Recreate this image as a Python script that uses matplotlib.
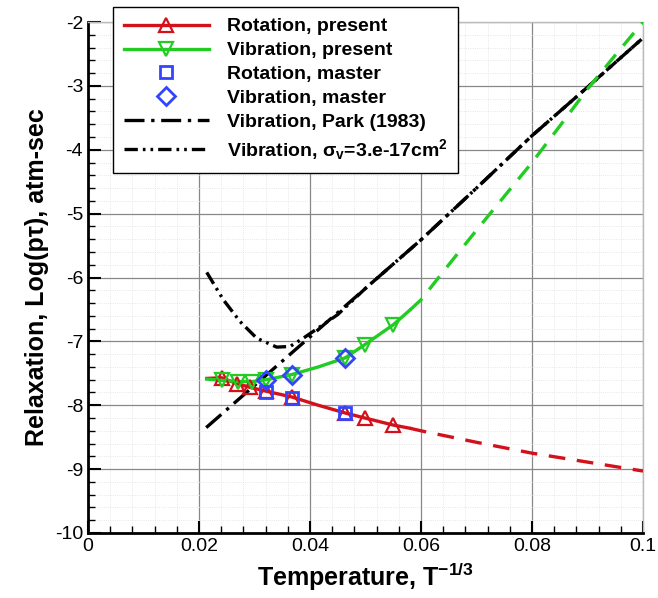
import matplotlib
matplotlib.use("Agg")
import matplotlib.pyplot as plt
from matplotlib.lines import Line2D
from matplotlib.ticker import MultipleLocator, FuncFormatter

plt.rcParams['font.family'] = ['Liberation Sans', 'DejaVu Sans']
plt.rcParams['axes.unicode_minus'] = False
plt.rcParams['mathtext.fontset'] = 'custom'
plt.rcParams['mathtext.rm'] = 'Liberation Sans:bold'
plt.rcParams['mathtext.it'] = 'Liberation Sans:bold'
plt.rcParams['mathtext.bf'] = 'Liberation Sans:bold'
plt.rcParams['mathtext.default'] = 'regular'

# ---- data (x = T^-1/3, y = log(p*tau)) ----
rot_line_x = [0.0214, 0.0241, 0.0268, 0.0292, 0.0321, 0.0367, 0.0415, 0.0463, 0.0499, 0.0550, 0.0580]
rot_line_y = [-7.58, -7.57, -7.66, -7.72, -7.78, -7.87, -8.00, -8.12, -8.20, -8.31, -8.36]
rot_mark_x = [0.0241, 0.0268, 0.0292, 0.0321, 0.0367, 0.0463, 0.0499, 0.0550]
rot_mark_y = [-7.57, -7.66, -7.72, -7.78, -7.87, -8.12, -8.20, -8.31]
rot_ext_x = [0.0580, 0.060, 0.070, 0.080, 0.090, 0.100]
rot_ext_y = [-8.36, -8.40, -8.58, -8.75, -8.89, -9.03]

vib_line_x = [0.0214, 0.0241, 0.0271, 0.0295, 0.0321, 0.0367, 0.0415, 0.0463, 0.0499, 0.0550, 0.0580]
vib_line_y = [-7.59, -7.61, -7.63, -7.63, -7.60, -7.52, -7.40, -7.26, -7.05, -6.74, -6.51]
vib_mark_x = [0.0241, 0.0271, 0.0295, 0.0321, 0.0367, 0.0463, 0.0499, 0.0550]
vib_mark_y = [-7.61, -7.63, -7.63, -7.60, -7.52, -7.26, -7.05, -6.74]
vib_ext_x = [0.0580, 0.060, 0.065, 0.070, 0.075, 0.080, 0.085, 0.090, 0.095, 0.100]
vib_ext_y = [-6.51, -6.35, -5.80, -5.26, -4.73, -4.20, -3.63, -3.05, -2.52, -2.00]

rot_master_x = [0.0321, 0.0367, 0.0463]
rot_master_y = [-7.79, -7.89, -8.12]
vib_master_x = [0.0321, 0.0367, 0.0463]
vib_master_y = [-7.61, -7.52, -7.26]

park_x = [0.0213, 0.030, 0.040, 0.050, 0.060, 0.070, 0.080, 0.090, 0.100]
park_y = [-8.35, -7.69, -6.93, -6.17, -5.41, -4.60, -3.78, -3.02, -2.25]

sig_x = [0.0214, 0.0244, 0.0274, 0.0304, 0.0340, 0.0364, 0.0388, 0.0415, 0.045, 0.050, 0.060,
         0.070, 0.080, 0.090, 0.100]
sig_y = [-5.92, -6.35, -6.69, -6.95, -7.09, -7.08, -6.95, -6.79, -6.58, -6.17, -5.41,
         -4.60, -3.78, -3.02, -2.25]

x_ticks = [0, 0.02, 0.04, 0.06, 0.08, 0.1]
x_tick_labels = ['0', '0.02', '0.04', '0.06', '0.08', '0.1']
y_ticks = [-10, -9, -8, -7, -6, -5, -4, -3, -2]

RED = '#d4111b'
GREEN = '#22cc22'
BLUE = '#3344ff'

fig = plt.figure(figsize=(6.58, 5.98), dpi=100)
ax = fig.add_axes([0.1337, 0.1087, 0.8435, 0.8545])

lw = 2.4
ax.plot(sig_x, sig_y, color='black', lw=lw, linestyle=(0, (4, 1.5, 0.8, 1.5, 0.8, 1.5)), zorder=3)
ax.plot(park_x, park_y, color='black', lw=lw, linestyle=(0, (6, 2, 1, 2)), zorder=3)

ax.plot(rot_line_x, rot_line_y, color=RED, lw=lw, zorder=4)
ax.plot(rot_ext_x, rot_ext_y, color=RED, lw=lw, linestyle=(0, (5, 3.5)), zorder=4)
ax.plot(rot_mark_x, rot_mark_y, linestyle='none', marker='^', ms=10, mfc='none', mec=RED, mew=1.6, zorder=5)

ax.plot(vib_line_x, vib_line_y, color=GREEN, lw=lw, zorder=4)
ax.plot(vib_ext_x, vib_ext_y, color=GREEN, lw=lw, linestyle=(0, (5, 3.5)), zorder=4)
ax.plot(vib_mark_x, vib_mark_y, linestyle='none', marker='v', ms=10, mfc='none', mec=GREEN, mew=1.6, zorder=5)

ax.plot(rot_master_x, rot_master_y, linestyle='none', marker='s', ms=9, mfc='none', mec=BLUE, mew=2.0, zorder=6)
ax.plot(vib_master_x, vib_master_y, linestyle='none', marker='D', ms=9, mfc='none', mec=BLUE, mew=2.0, zorder=6)

ax.set_xlim(0, 0.1)
ax.set_ylim(-10, -2)
ax.set_xticks(x_ticks)
ax.set_xticklabels(x_tick_labels)
ax.set_yticks(y_ticks)
ax.yaxis.set_major_formatter(FuncFormatter(lambda v, p: '%d' % v))
ax.xaxis.set_minor_locator(MultipleLocator(0.004))
ax.yaxis.set_minor_locator(MultipleLocator(0.2))
ax.tick_params(which='both', direction='in', top=False, right=False, labelsize=14, width=1.5)
ax.tick_params(which='major', length=9)
ax.tick_params(which='minor', length=5, width=1)
ax.grid(which='major', color='#888888', lw=0.9)
ax.grid(which='minor', color='#e0e0e0', lw=0.6, linestyle=':')
ax.set_axisbelow(True)
for side in ['left', 'bottom']:
    ax.spines[side].set_linewidth(2)
for side in ['top', 'right']:
    ax.spines[side].set_color('#bbbbbb')
    ax.spines[side].set_linewidth(1)

ax.set_xlabel('Temperature, T$^{-1/3}$', fontsize=18, fontweight='bold', labelpad=4)
ax.set_ylabel('Relaxation, Log(p\u03c4), atm-sec', fontsize=18, fontweight='bold', labelpad=4)

handles = [
    Line2D([], [], color=RED, lw=lw, marker='^', ms=10, mfc='none', mec=RED, mew=1.6),
    Line2D([], [], color=GREEN, lw=lw, marker='v', ms=10, mfc='none', mec=GREEN, mew=1.6),
    Line2D([], [], linestyle='none', marker='s', ms=9, mfc='none', mec=BLUE, mew=2.0),
    Line2D([], [], linestyle='none', marker='D', ms=9, mfc='none', mec=BLUE, mew=2.0),
    Line2D([], [], color='black', lw=lw, linestyle=(0, (6, 2, 1, 2))),
    Line2D([], [], color='black', lw=lw, linestyle=(0, (4, 1.5, 0.8, 1.5, 0.8, 1.5))),
]
labels = ['Rotation, present', 'Vibration, present', 'Rotation, master', 'Vibration, master',
          'Vibration, Park (1983)', 'Vibration, $\\sigma_v$=3.e-17cm$^2$']
leg = ax.legend(handles, labels, loc='upper left', bbox_to_anchor=(0.045, 1.029),
                prop={'family': 'Liberation Sans', 'weight': 'bold', 'size': 14},
                frameon=True, fancybox=False, edgecolor='black', framealpha=1,
                handlelength=4.4, handletextpad=0.9, labelspacing=0.32, borderpad=0.55,
                borderaxespad=0, numpoints=1)
leg.get_frame().set_linewidth(1.0)
leg.set_zorder(10)

fig.savefig('out.png', dpi=100)
